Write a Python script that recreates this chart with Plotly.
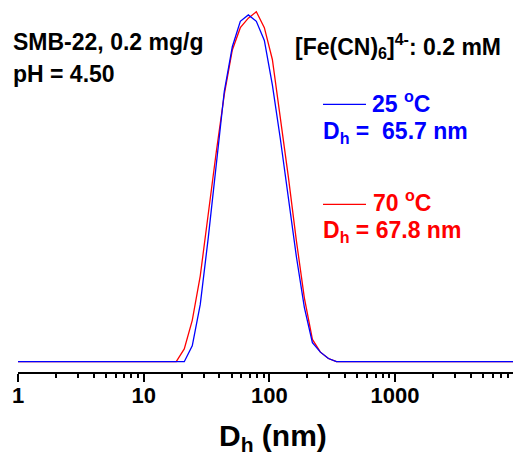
import plotly.graph_objects as go

# Size bins (nm) of the DLS intensity distribution
sizes_nm = [0.4, 0.4632, 0.5365, 0.6213, 0.7195, 0.8332, 0.9649, 1.117, 1.294, 1.499,
            1.736, 2.01, 2.328, 2.696, 3.122, 3.615, 4.187, 4.849, 5.615, 6.503,
            7.531, 8.721, 10.1, 11.7, 13.54, 15.69, 18.17, 21.04, 24.36, 28.21,
            32.67, 37.84, 43.82, 50.75, 58.77, 68.06, 78.82, 91.28, 105.7, 122.4,
            141.8, 164.2, 190.1, 220.2, 255.0, 295.3, 342.0, 396.1, 458.7, 531.2,
            615.1, 712.4, 825.0, 955.4, 1106, 1281, 1484, 1718, 1990, 2305,
            2669, 3091, 3580, 4145, 4801, 5560, 6439, 7456, 8635, 10000]

# Intensity (%) at 25 °C
intensity_25C = [0, 0, 0, 0, 0, 0, 0, 0, 0, 0,
                 0, 0, 0, 0, 0, 0, 0, 0, 0, 0,
                 0, 0, 0, 0, 0, 0, 0, 0, 0.5, 1.8,
                 3.9, 6.3, 8.5, 9.9, 10.7, 10.9, 10.7, 10.1, 8.7, 7.0,
                 5.1, 3.3, 1.7, 0.6, 0.3, 0.1, 0, 0, 0, 0,
                 0, 0, 0, 0, 0, 0, 0, 0, 0, 0,
                 0, 0, 0, 0, 0, 0, 0, 0, 0, 0]

# Intensity (%) at 70 °C
intensity_70C = [0, 0, 0, 0, 0, 0, 0, 0, 0, 0,
                 0, 0, 0, 0, 0, 0, 0, 0, 0, 0,
                 0, 0, 0, 0, 0, 0, 0, 0.4, 1.3, 2.7,
                 4.7, 6.6, 8.4, 9.8, 10.5, 10.8, 11.0, 10.5, 9.5, 7.7,
                 5.8, 3.8, 2.0, 0.7, 0.3, 0.1, 0, 0, 0, 0,
                 0, 0, 0, 0, 0, 0, 0, 0, 0, 0,
                 0, 0, 0, 0, 0, 0, 0, 0, 0, 0]

major_ticks = [1, 10, 100, 1000]
major_labels = ["1", "10", "100", "1000"]
minor_ticks = [m * d for d in (1, 10, 100, 1000) for m in range(2, 10)]

FONT = "Arial, 'Liberation Sans', sans-serif"
BLUE = "#0000FF"
RED = "#FF0000"

fig = go.Figure()
fig.add_trace(go.Scatter(x=sizes_nm, y=intensity_70C, mode="lines",
                         line=dict(color=RED, width=1.3), showlegend=False))
fig.add_trace(go.Scatter(x=sizes_nm, y=intensity_25C, mode="lines",
                         line=dict(color=BLUE, width=1.3), showlegend=False))

fig.update_xaxes(
    type="log", range=[0, 3.939],
    showline=True, linecolor="black", linewidth=2,
    ticks="outside", ticklen=8, tickwidth=1.7, tickcolor="black",
    tickmode="array", tickvals=major_ticks, ticktext=major_labels,
    tickfont=dict(family=FONT, size=22, color="black", weight="bold"),
    ticklabelstandoff=-5,
    minor=dict(tickmode="array", tickvals=minor_ticks, ticks="outside",
               ticklen=4, tickwidth=1.5, tickcolor="black", showgrid=False),
    showgrid=False, zeroline=False,
)
fig.update_yaxes(visible=False, range=[-0.324, 11.37])


def label(text, x, y, color="black", size=23):
    fig.add_annotation(text=text, xref="paper", yref="paper", x=x, y=y,
                       xanchor="left", yanchor="middle", showarrow=False,
                       font=dict(family=FONT, size=size, color=color, weight="bold"))


def px(xp):
    return (xp - 18) / 495


def py(yp):
    return (372 - yp) / 372


label("SMB-22, 0.2 mg/g", px(11), py(42))
label("pH = 4.50", px(11), py(74))
label("[Fe(CN)<sub>6</sub>]<sup>4-</sup>: 0.2 mM", px(293), py(46))
label("25 <sup>o</sup>C", px(370), py(102), BLUE)
label("D<sub>h</sub> =\u00a0\u00a065.7 nm", px(321), py(132), BLUE)
label("70 <sup>o</sup>C", px(371), py(201), RED)
label("D<sub>h</sub> = 67.8 nm", px(321), py(231), RED)

# legend sample lines
fig.add_shape(type="line", xref="paper", yref="paper",
              x0=px(323), x1=px(366), y0=py(104.3), y1=py(104.3),
              line=dict(color=BLUE, width=1.3))
fig.add_shape(type="line", xref="paper", yref="paper",
              x0=px(323), x1=px(366), y0=py(204.3), y1=py(204.3),
              line=dict(color=RED, width=1.3))

# axis title
fig.add_annotation(text="D<sub>h</sub> (nm)", xref="paper", yref="paper",
                   x=px(272.5), y=py(437), xanchor="center", yanchor="middle",
                   showarrow=False,
                   font=dict(family=FONT, size=30, color="black", weight="bold"))

fig.update_layout(
    width=514, height=457,
    margin=dict(l=18, r=1, t=0, b=85),
    paper_bgcolor="white", plot_bgcolor="white",
)

fig.write_html("out.html")
